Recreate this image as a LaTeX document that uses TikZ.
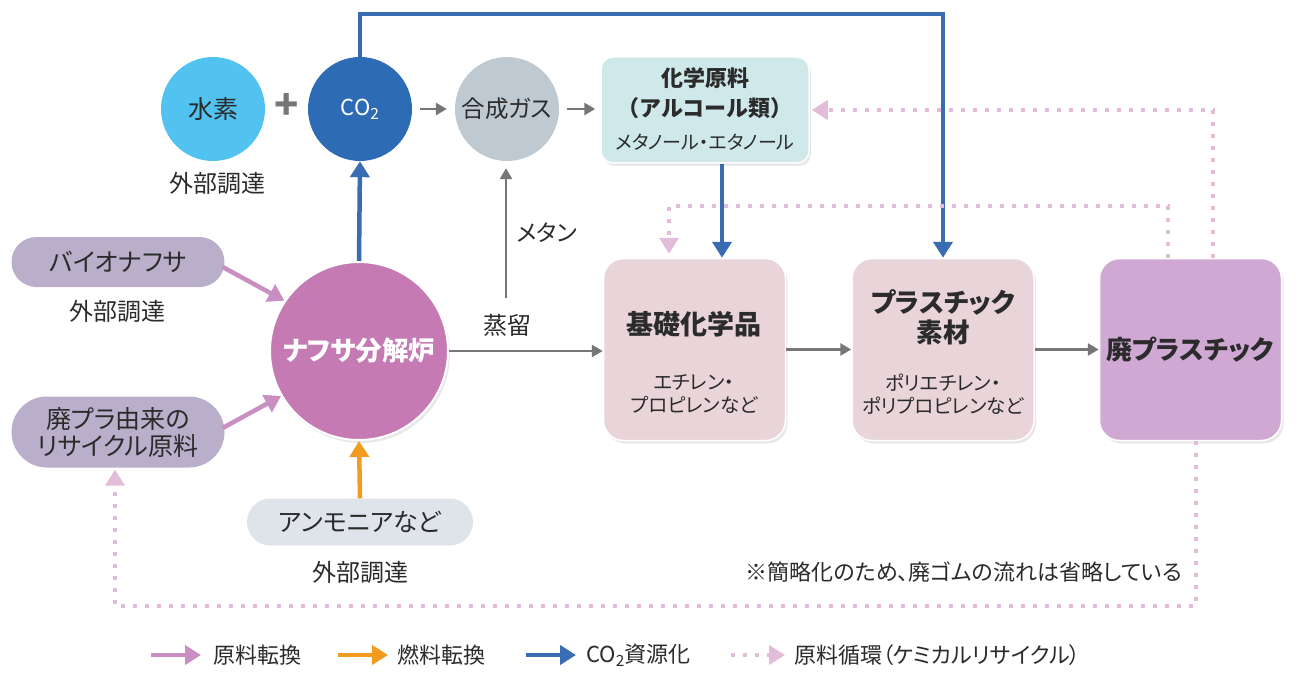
\documentclass[tikz,border=0pt]{standalone}
\usepackage{fontspec}
\setmainfont{Noto Sans CJK JP}[RawFeature=+palt]
\newfontfamily\fullw{Noto Sans CJK JP}
\usetikzlibrary{arrows.meta,calc,shadows,shapes.misc}
\definecolor{txt}{HTML}{2B2B2B}
\definecolor{hydro}{HTML}{52C3F1}
\definecolor{cotwo}{HTML}{2E6BB5}
\definecolor{syngas}{HTML}{BEC9D1}
\definecolor{chemc}{HTML}{CFE8EA}
\definecolor{lav}{HTML}{B9AFCB}
\definecolor{naphc}{HTML}{C57AB3}
\definecolor{ammc}{HTML}{DEE4EA}
\definecolor{pinkbox}{HTML}{E8D4D9}
\definecolor{wastec}{HTML}{CFA9D3}
\definecolor{arrpink}{HTML}{CA8FC2}
\definecolor{arrorange}{HTML}{F39B1F}
\definecolor{arrblue}{HTML}{3A6CB4}
\definecolor{arrgray}{HTML}{767676}
\definecolor{dotpink}{HTML}{E2BCD8}
\newcommand{\fsz}[2]{\fontsize{#1}{#2}\selectfont}
\begin{document}
\begin{tikzpicture}[x=1pt,y=-1pt,
  every node/.style={text=txt, inner sep=0pt},
  circ/.style={circle, minimum size=104pt, inner sep=0pt},
  softshadow/.style={drop shadow={shadow xshift=2pt, shadow yshift=-3pt, opacity=0.18}},
  card/.style={rounded corners=20pt, draw=white, line width=1.5pt, minimum width=182pt, minimum height=182pt, softshadow},
  pill/.style={rounded rectangle, minimum width=213pt},
  grayarr/.style={draw=arrgray, line width=2.7pt, -{Triangle[length=11pt,width=12pt]}},
  pinkarr/.style={draw=arrpink, line width=4.5pt, -{Triangle[length=16pt,width=19pt]}},
  orangearr/.style={draw=arrorange, line width=4.5pt, -{Triangle[length=16pt,width=19pt]}},
  bluearr/.style={draw=arrblue, line width=4.5pt, -{Triangle[length=16pt,width=19pt]}},
  cyclearr/.style={draw=dotpink, line width=3.5pt, dash pattern=on 4pt off 8pt, -{Triangle[length=16pt,width=19pt]}},
]
\fill[white] (0,0) rectangle (1305,679);
\useasboundingbox (0,0) rectangle (1305,679);

% top row
\node[circ, fill=hydro] (h2) at (213,109) {\fsz{25}{30}水素};
\node[text=arrgray] (plus) at (287,107) {\fsz{40}{40}\bfseries +};
\node[circ, fill=cotwo, text=white] (co2) at (360,109) {\fsz{22}{26}CO\textsubscript{2}};
\node[circ, fill=syngas] (syn) at (507,109) {\fsz{23.5}{28}合成ガス};
\node[fill=chemc, rounded corners=12pt, draw=white, line width=1.5pt, minimum width=208pt, minimum height=106pt, softshadow] (chem) at (705,110) {};
\node (chemt1) at (705,78) {\fsz{22}{26}\bfseries 化学原料};
\node (chemt2) at (705,108) {\fullw\fsz{22}{26}\bfseries （アルコール類）};
\node (chemt3) at (705,142) {\fsz{19}{22}メタノール・エタノール};
\node (ext1) at (217,183) {\fsz{24}{28}外部調達};

% left column
\node[pill, fill=lav, minimum height=50pt] (bio) at (118,262) {\fsz{25}{30}バイオナフサ};
\node (ext2) at (117,311) {\fsz{24}{28}外部調達};
\node[pill, fill=lav, minimum height=71pt, align=center, font=\fsz{25}{27}] (rec) at (118,432) {廃プラ由来の\\リサイクル原料};

% naphtha cracker
\node[circ, minimum size=178pt, fill=naphc, draw=white, line width=2pt, text=white, softshadow] (naph) at (359,351) {\fsz{26.5}{32}\bfseries ナフサ分解炉};
\node[rounded rectangle, fill=ammc, minimum width=226pt, minimum height=47pt] (amm) at (360,522) {\fsz{25}{30}アンモニアなど};
\node (ext3) at (360,572) {\fsz{24}{28}外部調達};

% cards
\node[card, fill=pinkbox] (base) at (694.5,349.5) {};
\node (baset) at (694,324) {\fsz{27}{32}\bfseries 基礎化学品};
\node[align=center, font=\fsz{19.5}{23}] (bases) at (694,394) {エチレン・\\プロピレンなど};
\node[card, fill=pinkbox] (plas) at (943,349.5) {};
\node[align=center, font=\fsz{26.5}{30}\bfseries] (plast) at (943,317) {プラスチック\\素材};
\node[align=center, font=\fsz{19.5}{23}] (plass) at (943,394) {ポリエチレン・\\ポリプロピレンなど};
\node[card, fill=wastec] (waste) at (1190.5,349.5) {};
\node (wastet) at (1190,350) {\fsz{26}{30}\bfseries 廃プラスチック};

% labels
\node (methane) at (547,233) {\fsz{23}{26}メタン};
\node (distil) at (507,325) {\fsz{24}{26}蒸留};
\node[anchor=east] (note) at (1182,572) {\fsz{22}{26}※簡略化のため、廃ゴムの流れは省略している};

% gray arrows
\draw[grayarr, shorten <=8pt, shorten >=8pt] (co2) -- (syn);
\draw[grayarr, shorten <=8pt, shorten >=5pt] (syn.east) -- (syn.east -| chem.west);
\draw[grayarr] (naph.east) -- (naph.east -| base.west);
\coordinate (m0) at (506,298);
\draw[grayarr, shorten >=7pt] (m0) -- (m0 |- syn.south);
\draw[grayarr] (base.east) -- (plas.west);
\draw[grayarr] (plas.east) -- (waste.west);

% feedstock arrows
\draw[pinkarr] ($(bio.east)+(-2,5)$) -- (naph.146);
\draw[pinkarr] ($(rec.east)+(-2,-4)$) -- (naph.210);
\draw[orangearr] (amm.north) -- (naph.south);

% CO2 arrows
\draw[bluearr] (naph.north) -- (co2.south);
\coordinate (top) at (0,14);
\draw[bluearr] (co2.north) -- (co2.north |- top) -- (top -| plas.north) -- (plas.north);
\coordinate (b1) at (722,0);
\draw[bluearr] (b1 |- chem.south) -- (b1 |- base.north);

% recycle loops
\coordinate (c1) at (1213,110);
\draw[cyclearr, shorten >=2pt] (c1 |- waste.north) -- (c1) -- (c1 -| chem.east);
\coordinate (c2) at (1168,206);
\coordinate (c3) at (669,206);
\draw[cyclearr, shorten >=4pt] (c2 |- waste.north) -- (c2) -- (c3) -- (c3 |- base.north);
\coordinate (c4) at (1196,606);
\coordinate (c5) at (115,606);
\draw[cyclearr, shorten >=2pt] (c4 |- waste.south) -- (c4) -- (c5) -- (c5 |- rec.south);

% legend
\coordinate (l1a) at (151,655); \coordinate (l1b) at (201,655);
\draw[pinkarr] (l1a) -- (l1b);
\node[anchor=west] (l1t) at (213,655) {\fsz{22}{26}原料転換};
\coordinate (l2a) at (338,655); \coordinate (l2b) at (388,655);
\draw[orangearr] (l2a) -- (l2b);
\node[anchor=west] (l2t) at (397,655) {\fsz{22}{26}燃料転換};
\coordinate (l3a) at (526,655); \coordinate (l3b) at (576,655);
\draw[bluearr] (l3a) -- (l3b);
\node[anchor=west] (l3t) at (586,655) {\fsz{22}{26}CO\textsubscript{2}資源化};
\coordinate (l4a) at (731,655); \coordinate (l4b) at (785,655);
\draw[cyclearr] (l4a) -- (l4b);
\node[anchor=west] (l4t) at (794,655) {\fsz{22}{26}原料循環（ケミカルリサイクル）};
\end{tikzpicture}
\end{document}
